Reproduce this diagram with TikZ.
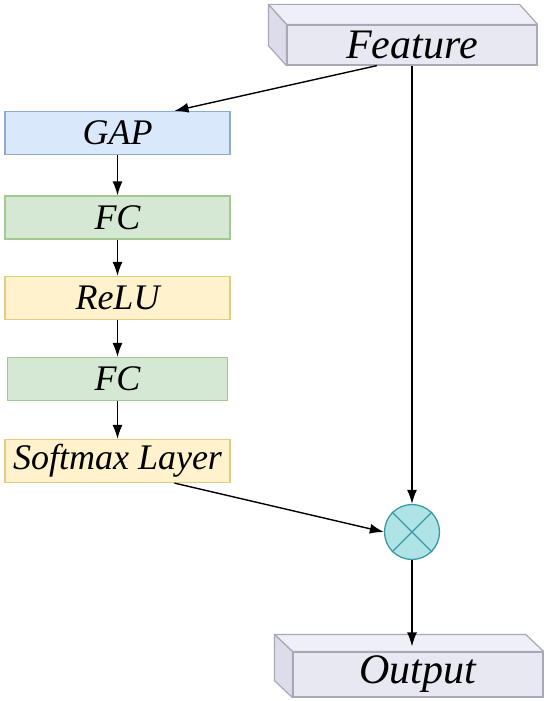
\documentclass[tikz,border=0pt]{standalone}
\usepackage{fontspec}
\setmainfont{Liberation Serif}
\usetikzlibrary{arrows.meta,calc}
\definecolor{bluef}{HTML}{DAE8FC}\definecolor{blued}{HTML}{8FAAD3}
\definecolor{greenf}{HTML}{D5E8D4}\definecolor{greend}{HTML}{A3C990}
\definecolor{yellf}{HTML}{FFF2CC}\definecolor{yelld}{HTML}{E3CB80}
\definecolor{tealf}{HTML}{B0E3E6}\definecolor{teald}{HTML}{3A9AA0}
\definecolor{cubef}{HTML}{E8E8F2}\definecolor{cubet}{HTML}{EFEFF7}
\definecolor{cubes}{HTML}{DCDCEA}\definecolor{cubed}{HTML}{A8A8B6}
\begin{document}
\begin{tikzpicture}[x=1pt,y=-1pt,
  blk/.style={draw, line width=1.2pt, minimum width=225pt, minimum height=43pt, inner sep=0pt,
    font=\fontsize{36}{38}\selectfont\itshape},
  cubefront/.style={draw=cubed, fill=cubef, line width=1.2pt, minimum width=250pt, inner sep=0pt,
    font=\fontsize{42}{44}\selectfont\itshape},
  cubeface/.style={draw=cubed, line width=1.2pt, line join=round},
  arr/.style={line width=1.4pt, -{Latex[length=14pt,width=10pt]}}]
\useasboundingbox (0,0) rectangle (550,701);
% Feature cube
\node[cubefront, minimum height=40pt] (feat) at (412,45) {Feature};
\draw[cubeface, fill=cubet] (feat.north west) -- ++(-18,-20) -- ($(feat.north east)+(-18,-20)$) -- (feat.north east) -- cycle;
\draw[cubeface, fill=cubes] (feat.north west) -- ++(-18,-20) -- ($(feat.south west)+(-18,-20)$) -- (feat.south west) -- cycle;
% Output cube
\node[cubefront, minimum height=45pt] (out) at (418,674.5) {Output};
\draw[cubeface, fill=cubet] (out.north west) -- ++(-18,-17) -- ($(out.north east)+(-18,-17)$) -- (out.north east) -- cycle;
\draw[cubeface, fill=cubes] (out.north west) -- ++(-18,-17) -- ($(out.south west)+(-18,-17)$) -- (out.south west) -- cycle;
% left column
\node[blk, fill=bluef, draw=blued] (gap) at (117.5,133) {GAP};
\node[blk, fill=greenf, draw=greend] (fc1) at (117.5,217.5) {FC};
\node[blk, fill=yellf, draw=yelld] (relu) at (117.5,298) {ReLU};
\node[blk, fill=greenf, draw=greend, minimum width=220pt] (fc2) at (117.5,379) {FC};
\node[blk, fill=yellf, draw=yelld] (soft) at (117.5,461) {Softmax Layer};
% multiply
\node[circle, draw=teald, fill=tealf, line width=1.3pt, minimum size=55pt, inner sep=0pt] (mul) at (412,532) {};
\draw[teald, line width=1.3pt] (mul.north west) -- (mul.south east) (mul.north east) -- (mul.south west);
% connectors
\draw[arr] (feat.south) -- (mul.north);
\draw[arr] ($(feat.south)+(-35,0)$) -- ($(gap.north)+(57,0)$);
\draw[arr] (gap) -- (fc1);
\draw[arr] (fc1) -- (relu);
\draw[arr] (relu) -- (fc2);
\draw[arr] (fc2) -- (soft);
\draw[arr] ($(soft.south)+(57,0)$) -- (mul.west);
\draw[arr] (mul.south) -- ($(out.north)+(-6,-5)$);
\end{tikzpicture}
\end{document}
